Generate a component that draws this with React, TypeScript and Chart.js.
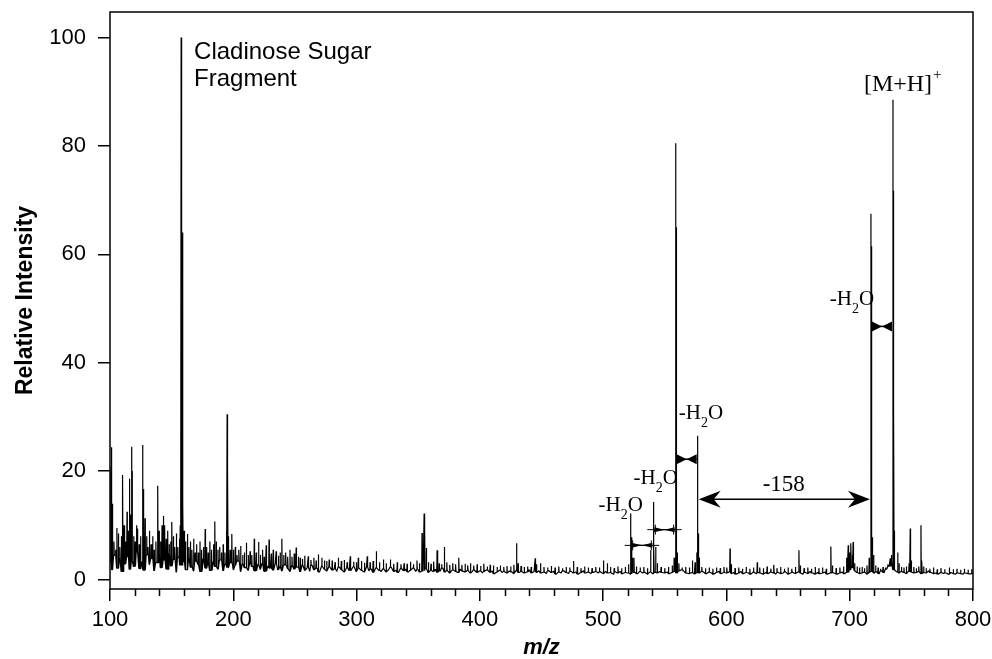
import React, { useEffect, useRef } from "react";
import { Chart, registerables } from "chart.js";

Chart.register(...registerables);

const SANS = "'Liberation Sans', Arial, Helvetica, sans-serif";
const SERIF = "'Liberation Serif', 'Times New Roman', Times, serif";

// ---- data ----
const X_TICKS = [100, 200, 300, 400, 500, 600, 700, 800];
const X_MINOR_TICKS = [120, 140, 160, 180, 220, 240, 260, 280, 320, 340, 360, 380, 420, 440, 460, 480, 520, 540, 560, 580, 620, 640, 660, 680, 720, 740, 760, 780];
const Y_TICKS = [0, 20, 40, 60, 80, 100];

// baseline noise, m/z 100..800 every 2
const BASELINE_START = 100;
const BASELINE_STEP = 2;
const BASELINE = [
  3.2, 1.8, 4.5, 2.1, 3.8, 1.5, 2.9, 4.2, 1.9, 3.5, 2.4, 5.1, 2.0, 3.3, 1.7, 4.6, 2.8, 3.9, 1.6, 3.1, 4.4, 2.2, 3.6, 1.9, 4.8,
  2.5, 3.7, 1.4, 4.1, 2.6, 3.2, 1.8, 3.9, 2.3, 1.6, 3.4, 2.7, 1.5, 3.8, 2.1, 2.9, 1.7, 3.3, 2.4, 1.9, 3.6, 1.6, 2.8, 2.2, 3.1,
  1.8, 2.6, 3.4, 1.5, 2.9, 2.2, 1.7, 3.2, 2.4, 1.6, 2.8, 1.9, 3.0, 1.5, 2.5, 2.1, 1.7, 2.9, 1.8, 2.4, 1.6, 2.7, 2.0, 1.5, 2.6,
  1.9, 2.3, 1.4, 2.8, 1.7, 2.2, 1.5, 2.6, 1.8, 2.1, 1.4, 2.5, 1.9, 1.6, 2.4, 1.7, 2.0, 1.5, 2.3, 1.8, 1.4, 2.2, 1.6, 1.9, 2.4,
  1.5, 2.1, 1.7, 1.4, 2.3, 1.6, 1.9, 1.3, 2.2, 1.7, 1.5, 2.0, 1.4, 1.8, 2.3, 1.5, 1.7, 1.3, 2.1, 1.6, 1.9, 1.4, 1.7, 2.2, 1.5,
  1.8, 1.4, 1.6, 2.0, 1.3, 1.7, 1.5, 1.9, 1.3, 1.6, 2.1, 1.4, 1.7, 1.2, 1.8, 1.5, 1.3, 1.9, 1.6, 1.4, 1.7, 1.2, 1.5, 1.8, 1.3,
  1.6, 1.2, 1.5, 1.8, 1.3, 1.6, 1.1, 1.4, 1.7, 1.3, 1.5, 1.2, 1.6, 1.4, 1.1, 1.7, 1.3, 1.5, 1.2, 1.4, 1.8, 1.2, 1.5, 1.3, 1.6,
  1.2, 1.4, 1.1, 1.6, 1.3, 1.5, 1.0, 1.4, 1.2, 1.6, 1.3, 1.1, 1.5, 1.2, 1.4, 1.0, 1.3, 1.6, 1.2, 1.4, 1.1, 1.3, 1.5, 1.2, 1.4,
  1.1, 1.5, 1.2, 1.3, 1.0, 1.4, 1.2, 1.5, 1.1, 1.3, 1.2, 1.0, 1.4, 1.3, 1.1, 1.5, 1.2, 1.3, 1.0, 1.4, 1.1, 1.3, 1.2, 1.5, 1.3,
  1.2, 1.4, 1.1, 1.3, 1.5, 1.2, 1.6, 1.8, 1.4, 1.2, 1.1, 1.3, 1.0, 1.4, 1.2, 1.5, 1.3, 1.1, 1.4, 1.2, 1.0, 1.3, 1.5, 1.1, 1.3,
  1.2, 1.4, 1.1, 1.3, 1.0, 1.2, 1.5, 1.1, 1.3, 1.2, 1.0, 1.4, 1.1, 1.3, 1.2, 1.0, 1.3, 1.1, 1.4, 1.2, 1.0, 1.3, 1.1, 1.2, 1.4,
  1.0, 1.2, 1.3, 1.1, 1.4, 1.2, 1.0, 1.3, 1.1, 1.5, 1.2, 1.0, 1.3, 1.1, 1.2, 1.4, 1.0, 1.2, 1.3, 1.1, 1.0, 1.2, 1.4, 1.1, 1.3,
  1.8, 2.2, 1.6, 1.3, 1.1, 1.2, 1.4, 1.0, 1.3, 1.5, 1.2, 1.4, 1.1, 1.6, 1.3, 1.9, 2.4, 3.1, 1.8, 1.4, 1.2, 1.5, 1.3, 1.1, 1.6,
  1.4, 1.2, 1.3, 1.5, 1.1, 1.3, 1.2, 1.6, 1.3, 1.1, 1.2, 1.0, 1.3, 1.1, 1.2, 1.0, 1.3, 1.1, 1.0, 1.2, 1.1, 1.0, 1.2, 1.1, 1.0,
  1.1,
];

// peak positions (m/z) and relative intensities
const PEAK_MZ = [
  100.8, 101.3, 102.0, 103.2, 104.5, 105.6, 106.8, 108.0, 109.2, 110.3, 111.4, 112.6, 113.8, 114.9, 115.7, 116.6, 117.6, 118.1, 119.2, 120.4,
  121.5, 122.4, 123.6, 124.8, 126.5, 127.0, 128.4, 129.6, 130.8, 132.0, 133.3, 134.6, 135.8, 137.2, 138.7, 139.8, 141.0, 142.2, 143.3, 144.4,
  145.6, 146.8, 148.0, 149.2, 150.2, 151.4, 152.6, 153.8, 155.0, 156.2, 157.0, 157.7, 158.1, 158.5, 159.2, 160.2, 161.3, 162.8, 164.0, 165.2,
  166.5, 167.8, 169.0, 170.3, 171.6, 173.0, 174.4, 175.8, 177.2, 178.4, 179.6, 181.0, 182.5, 184.0, 185.0, 186.2, 187.6, 189.0, 190.4, 191.8,
  193.2, 194.4, 195.0, 195.5, 196.2, 197.4, 198.8, 200.2, 201.6, 203.0, 204.6, 206.0, 207.6, 209.0, 210.6, 212.2, 213.6, 215.0, 217.0, 218.6,
  220.5, 222.0, 223.6, 225.0, 226.7, 229.0, 230.8, 232.4, 234.8, 236.6, 238.0, 239.4, 241.0, 242.6, 244.2, 246.0, 247.6, 249.4, 251.0, 252.8,
  254.3, 256.2, 258.0, 260.8, 263.0, 265.4, 267.2, 269.0, 271.9, 274.0, 275.8, 277.8, 280.2, 282.6, 285.2, 287.6, 290.0, 292.4, 294.9, 297.6,
  299.8, 301.4, 304.0, 306.4, 308.7, 311.0, 313.4, 316.0, 318.6, 321.7, 324.0, 327.4, 330.2, 333.0, 336.0, 338.6, 341.0, 343.6, 346.2, 349.0,
  351.0, 353.1, 354.8, 355.4, 356.6, 358.4, 360.4, 362.6, 365.3, 367.0, 369.0, 371.2, 373.2, 375.6, 378.0, 380.4, 382.9, 385.4, 388.0, 390.2,
  392.4, 395.0, 397.8, 400.6, 403.2, 406.0, 408.4, 411.0, 414.0, 416.6, 419.4, 422.0, 425.0, 427.6, 429.7, 431.0, 433.4, 436.0, 438.8, 441.6,
  444.9, 446.0, 449.2, 452.0, 455.0, 458.0, 461.0, 464.0, 467.0, 470.0, 473.0, 476.0, 479.0, 482.0, 485.0, 488.0, 491.0, 494.0, 497.0, 500.4,
  503.4, 506.0, 509.0, 512.0, 515.0, 518.0, 520.6, 522.3, 522.8, 523.6, 525.0, 527.0, 530.0, 533.0, 536.0, 538.5, 540.7, 541.2, 542.6, 544.0,
  547.0, 550.0, 553.0, 556.0, 557.6, 558.8, 559.1, 559.5, 560.2, 561.4, 564.0, 567.0, 570.0, 572.4, 574.6, 576.0, 576.7, 577.1, 578.0, 580.0,
  583.0, 586.0, 589.0, 592.0, 595.0, 598.0, 600.4, 602.9, 604.0, 607.0, 610.0, 613.0, 616.0, 619.0, 622.0, 625.0, 627.0, 630.0, 633.0, 636.0,
  638.5, 641.0, 644.0, 647.0, 650.0, 653.0, 656.0, 658.8, 660.0, 663.0, 666.0, 669.0, 672.0, 675.0, 678.0, 681.0, 684.7, 686.0, 689.0, 692.0,
  695.0, 697.4, 698.8, 700.0, 701.0, 702.0, 702.8, 704.0, 706.0, 708.0, 710.0, 712.0, 714.0, 715.8, 717.2, 717.5, 717.9, 718.5, 719.4, 721.0,
  723.0, 725.0, 727.0, 729.0, 731.0, 732.9, 733.8, 735.1, 735.4, 735.8, 736.4, 738.9, 740.0, 742.0, 744.0, 746.0, 748.2, 749.1, 750.0, 752.0,
  754.0, 756.0, 757.8, 758.6, 760.0, 762.0, 765.0, 768.0, 771.0, 774.0, 777.0, 780.8, 784.0, 787.0, 790.0, 793.0, 796.0, 799.0,
];
const PEAK_INT = [
  20.8, 24.4, 14, 7, 5.5, 9.5, 8.5, 6, 8, 19.3, 10, 7, 12.5, 9, 18.6, 12, 24.5, 20, 8, 7,
  10, 9.4, 6.5, 8, 24.8, 16.7, 11.3, 8, 6, 9, 6.5, 8, 5.5, 7, 17.3, 9, 7, 10, 11.7, 10,
  7.5, 9, 6.5, 7, 10.6, 8, 6, 8.5, 6, 7.5, 10, 100, 87, 64, 14, 9, 7, 8.4, 6, 7,
  5.5, 7.5, 5, 6.5, 5, 7, 5.5, 6, 9.3, 6, 5, 7, 5.5, 6.5, 10.7, 7, 5.5, 6, 5, 6.5,
  5, 9, 30.5, 20, 8, 5.5, 8.4, 5.5, 6, 4.5, 5.5, 6.2, 4.5, 5, 6.8, 4.5, 5.2, 4.5, 7.5, 5,
  6.9, 4.5, 5.5, 4.2, 6.3, 7.4, 4.8, 5.5, 5.2, 4.4, 5, 7.5, 4.5, 5, 4.2, 5.5, 4.2, 4.8, 5.9, 4.2,
  4.0, 3.8, 4.4, 4.3, 3.6, 4.0, 3.5, 4.6, 4.0, 3.5, 3.4, 3.7, 3.5, 3.2, 4.0, 3.4, 3.6, 3.2, 4.3, 3.3,
  3.2, 4.0, 3.4, 3.1, 4.3, 3.2, 3.4, 5.2, 3.2, 3.7, 3.0, 3.7, 2.9, 3.2, 2.8, 3.0, 2.9, 3.3, 2.8, 3.5,
  3.0, 8.6, 12.2, 9, 5.8, 3.2, 2.9, 3.3, 5.4, 3.0, 2.8, 6.0, 3.2, 2.7, 3.0, 2.8, 4.0, 2.7, 2.9, 2.6,
  3.0, 2.6, 2.8, 2.5, 2.9, 2.4, 2.7, 2.6, 2.3, 2.6, 2.3, 2.5, 2.4, 2.7, 6.7, 3.0, 2.5, 2.3, 2.4, 2.3,
  3.9, 2.8, 3.0, 2.3, 2.2, 2.5, 2.2, 2.4, 2.1, 2.3, 2.2, 3.4, 2.3, 2.1, 2.4, 2.2, 2.1, 2.3, 2.2, 3.5,
  3.0, 2.3, 2.1, 2.4, 2.1, 2.3, 2.8, 12.2, 7.8, 4.0, 4.0, 2.4, 2.2, 2.3, 2.1, 5.4, 14.3, 6, 6.0, 3.0,
  2.3, 2.1, 2.3, 2.6, 4.0, 80.5, 65, 17, 5, 3, 2.2, 2.3, 2.2, 3.5, 3.2, 5, 26.5, 8.5, 4, 2.3,
  2.1, 2.2, 2.0, 2.2, 2.1, 2.3, 2.2, 5.7, 2.8, 2.1, 2.2, 2.0, 2.3, 2.0, 2.2, 3.2, 2.2, 2.1, 2.4, 2.0,
  2.7, 2.1, 2.3, 2.0, 2.2, 2.0, 2.3, 5.4, 2.6, 2.1, 2.2, 2.0, 2.3, 2.1, 2.2, 2.0, 6.1, 2.6, 2.1, 2.2,
  2.4, 4.0, 6.3, 5.0, 6.7, 4.5, 6.9, 3.0, 2.4, 2.2, 2.3, 2.1, 2.6, 4.0, 67.5, 61.5, 25, 7.8, 4.5, 2.6,
  2.2, 2.0, 2.3, 2.2, 2.8, 3.9, 4.5, 88.5, 71.7, 32, 9, 5.0, 3.0, 2.3, 2.2, 2.4, 3.0, 9.4, 3.5, 2.3,
  2.1, 2.4, 10.0, 3.5, 2.4, 2.1, 2.0, 2.2, 1.9, 2.1, 1.9, 2.2, 1.9, 2.0, 1.8, 2.0, 1.8, 1.9,
];

// ---- annotations (data coordinates: m/z, intensity) ----
const SUGAR_TEXT = ["Cladinose Sugar", "Fragment"];
const SUGAR_POS = { mz: 168.2, y1: 96.1, y2: 91.1 };
const PARENT_TEXT = "[M+H]";
const PARENT_POS = { mz: 711.5, y: 90.2 };
const WATER_LABELS = [
  { mz: 496.3, y: 12.6 },
  { mz: 524.7, y: 17.6 },
  { mz: 561.3, y: 29.6 },
  { mz: 683.8, y: 50.6 },
];
const WATER_GAPS = [
  { from: 522.3, to: 540.7, y: 6.3, bold: false },
  { from: 540.7, to: 558.8, y: 9.2, bold: false },
  { from: 558.8, to: 576.7, y: 22.2, bold: true },
  { from: 717.2, to: 735.1, y: 46.7, bold: true },
];
const LOSS_158 = { from: 576.7, to: 717.2, y: 14.8, label: "-158", labelMz: 646.5, labelY: 16.3 };

function buildPoints() {
  const pts: { x: number; y: number }[] = [];
  BASELINE.forEach((v, i) => pts.push({ x: BASELINE_START + i * BASELINE_STEP, y: v }));
  PEAK_MZ.forEach((m, i) => {
    const idx = Math.min(BASELINE.length - 1, Math.max(0, Math.round((m - BASELINE_START) / BASELINE_STEP)));
    const b = BASELINE[idx];
    pts.push({ x: m - 0.25, y: b }, { x: m, y: PEAK_INT[i] }, { x: m + 0.25, y: b });
  });
  pts.sort((a, b) => a.x - b.x);
  return pts;
}

function drawWater(ctx: CanvasRenderingContext2D, x: number, y: number) {
  const size = 21;
  ctx.textAlign = "left";
  ctx.textBaseline = "alphabetic";
  ctx.font = `${size}px ${SERIF}`;
  ctx.fillText("-H", x, y);
  const w1 = ctx.measureText("-H").width;
  ctx.font = `${Math.round(size * 0.66)}px ${SERIF}`;
  ctx.fillText("2", x + w1, y + 8);
  const w2 = ctx.measureText("2").width;
  ctx.font = `${size}px ${SERIF}`;
  ctx.fillText("O", x + w1 + w2, y);
}

function drawBowtie(ctx: CanvasRenderingContext2D, x1: number, x2: number, y: number, h: number, bold: boolean) {
  const m = (x1 + x2) / 2;
  ctx.lineWidth = bold ? 1.5 : 1.2;
  ctx.beginPath();
  ctx.moveTo(x1, y);
  ctx.lineTo(x2, y);
  ctx.stroke();
  ctx.beginPath();
  ctx.moveTo(x1, y - h / 2);
  ctx.lineTo(m, y);
  ctx.lineTo(x1, y + h / 2);
  ctx.closePath();
  ctx.fill();
  ctx.beginPath();
  ctx.moveTo(x2, y - h / 2);
  ctx.lineTo(m, y);
  ctx.lineTo(x2, y + h / 2);
  ctx.closePath();
  ctx.fill();
  if (!bold) {
    ctx.lineWidth = 1;
    ctx.beginPath();
    ctx.moveTo(x1 - 7, y);
    ctx.lineTo(x2 + 7, y);
    ctx.moveTo(x1 + 1, y - 5);
    ctx.lineTo(x1 + 1, y + 5);
    ctx.moveTo(x2 - 1, y - 5);
    ctx.lineTo(x2 - 1, y + 5);
    ctx.stroke();
  }
}

function arrowHead(ctx: CanvasRenderingContext2D, tipX: number, y: number, dir: number) {
  const L = 22, H = 8.5, N = 15;
  ctx.beginPath();
  ctx.moveTo(tipX, y);
  ctx.lineTo(tipX - dir * L, y - H);
  ctx.lineTo(tipX - dir * N, y);
  ctx.lineTo(tipX - dir * L, y + H);
  ctx.closePath();
  ctx.fill();
}

const annotationPlugin = {
  id: "spectrumAnnotations",
  afterDatasetsDraw(chart: any) {
    const { ctx, chartArea } = chart;
    const xs = chart.scales.x;
    const ys = chart.scales.y;
    const px = (v: number) => xs.getPixelForValue(v);
    const py = (v: number) => ys.getPixelForValue(v);
    ctx.save();
    ctx.fillStyle = "#000";
    ctx.strokeStyle = "#000";

    // frame
    ctx.lineWidth = 1.5;
    ctx.strokeRect(chartArea.left, chartArea.top, chartArea.right - chartArea.left, chartArea.bottom - chartArea.top);

    // minor x ticks
    ctx.lineWidth = 1.5;
    ctx.beginPath();
    X_MINOR_TICKS.forEach((v) => {
      const x = Math.round(px(v)) + 0.5;
      ctx.moveTo(x, chartArea.bottom);
      ctx.lineTo(x, chartArea.bottom + 7);
    });
    ctx.stroke();

    // sugar label
    ctx.textAlign = "left";
    ctx.textBaseline = "alphabetic";
    ctx.font = `24px ${SANS}`;
    ctx.fillText(SUGAR_TEXT[0], px(SUGAR_POS.mz), py(SUGAR_POS.y1));
    ctx.fillText(SUGAR_TEXT[1], px(SUGAR_POS.mz), py(SUGAR_POS.y2));

    // parent ion
    ctx.font = `24px ${SERIF}`;
    const pX = px(PARENT_POS.mz);
    const pY = py(PARENT_POS.y);
    ctx.fillText(PARENT_TEXT, pX, pY);
    const pw = ctx.measureText(PARENT_TEXT).width;
    ctx.font = `15px ${SERIF}`;
    ctx.fillText("+", pX + pw + 1, pY - 12);

    // water losses
    WATER_LABELS.forEach((l) => drawWater(ctx, px(l.mz), py(l.y)));
    WATER_GAPS.forEach((g) => drawBowtie(ctx, px(g.from) + 1, px(g.to) - 1, py(g.y), g.bold ? 10 : 5, g.bold));

    // -158 arrow
    const ay = py(LOSS_158.y);
    const ax1 = px(LOSS_158.from) + 1;
    const ax2 = px(LOSS_158.to) - 1;
    ctx.lineWidth = 1.5;
    ctx.beginPath();
    ctx.moveTo(ax1 + 10, ay);
    ctx.lineTo(ax2 - 10, ay);
    ctx.stroke();
    arrowHead(ctx, ax1, ay, -1);
    arrowHead(ctx, ax2, ay, 1);
    ctx.font = `23px ${SERIF}`;
    ctx.textAlign = "center";
    ctx.fillText(LOSS_158.label, px(LOSS_158.labelMz), py(LOSS_158.labelY));

    // axis titles
    ctx.font = `bold 23px ${SANS}`;
    ctx.textAlign = "center";
    ctx.textBaseline = "middle";
    ctx.save();
    ctx.translate(26, (chartArea.top + chartArea.bottom) / 2);
    ctx.rotate(-Math.PI / 2);
    ctx.fillText("Relative Intensity", 0, 0);
    ctx.restore();
    ctx.font = `italic bold 22px ${SANS}`;
    ctx.fillText("m/z", (chartArea.left + chartArea.right) / 2, 648);

    ctx.restore();
  },
};

export default function App() {
  const ref = useRef<HTMLCanvasElement>(null);
  useEffect(() => {
    const canvas = ref.current;
    if (!canvas) return;
    const chart = new Chart(canvas, {
      type: "line",
      data: {
        datasets: [
          {
            data: buildPoints(),
            borderColor: "#000",
            borderWidth: 1.2,
            pointRadius: 0,
            tension: 0,
            fill: false,
            borderJoinStyle: "bevel",
          } as any,
        ],
      },
      options: {
        responsive: false,
        animation: false,
        devicePixelRatio: 1,
        parsing: false,
        layout: { autoPadding: false, padding: { left: 0, right: 19, top: 12, bottom: 0 } },
        plugins: { legend: { display: false }, tooltip: { enabled: false } },
        scales: {
          x: {
            type: "linear",
            min: 100,
            max: 800,
            afterBuildTicks: (s: any) => {
              s.ticks = X_TICKS.map((v) => ({ value: v }));
            },
            afterFit: (s: any) => {
              s.height = 70;
              s.paddingLeft = 0;
              s.paddingRight = 0;
              s.paddingTop = 0;
              s.paddingBottom = 0;
            },
            grid: { drawOnChartArea: false, drawTicks: true, tickLength: 12, color: "#000", lineWidth: 1.5 },
            border: { display: false },
            ticks: { font: { family: SANS, size: 22, lineHeight: 1 }, color: "#000", padding: 8, maxRotation: 0, autoSkip: false },
          },
          y: {
            type: "linear",
            min: -1.75,
            max: 104.7,
            afterBuildTicks: (s: any) => {
              s.ticks = Y_TICKS.map((v) => ({ value: v }));
            },
            afterFit: (s: any) => {
              s.width = 110;
              s.paddingLeft = 0;
              s.paddingRight = 0;
              s.paddingTop = 0;
              s.paddingBottom = 0;
            },
            grid: { drawOnChartArea: false, drawTicks: true, tickLength: 12, color: "#000", lineWidth: 1.5 },
            border: { display: false },
            ticks: { font: { family: SANS, size: 22 }, color: "#000", padding: 12, autoSkip: false },
          },
        },
      } as any,
      plugins: [annotationPlugin],
    });
    return () => chart.destroy();
  }, []);
  return (
    <div style={{ position: "absolute", left: 0, top: 0, width: 992, height: 659, background: "#fff" }}>
      <canvas ref={ref} width={992} height={659} style={{ display: "block", width: 992, height: 659 }} />
    </div>
  );
}
